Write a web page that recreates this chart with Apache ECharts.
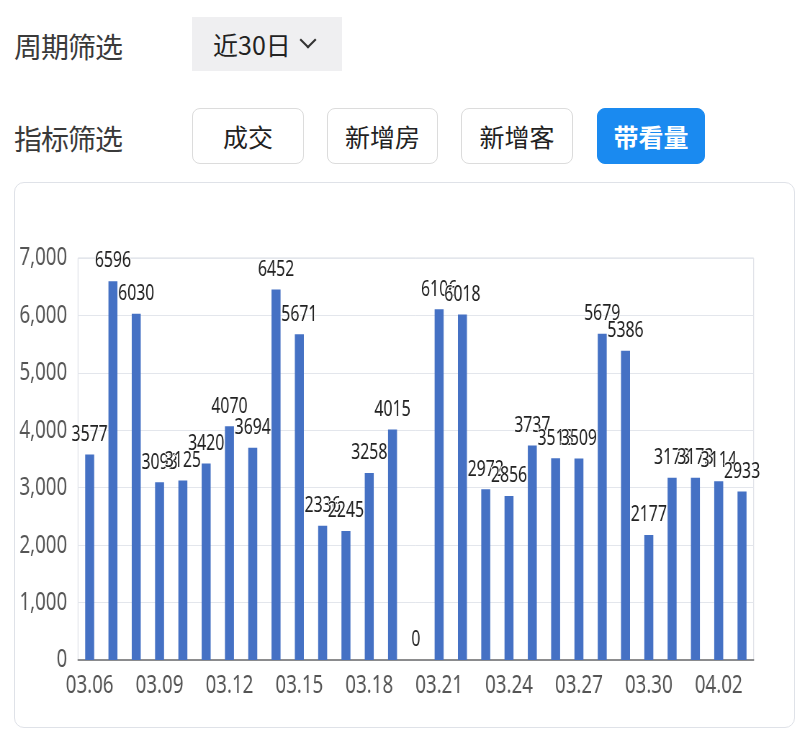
<!DOCTYPE html>
<html lang="zh">
  <head>
    <meta charset="UTF-8" />
    <title>带看量 近30日</title>
    <style>
      * {
        margin: 0;
        padding: 0;
        box-sizing: border-box;
      }
      body {
        width: 800px;
        height: 730px;
        background: #fff;
        font-family: "Noto Sans CJK SC", "Noto Sans", sans-serif;
        position: relative;
        overflow: hidden;
      }
      .label {
        position: absolute;
        left: 14px;
        font-size: 28px;
        color: #3a3a3a;
        line-height: 34px;
        letter-spacing: -1px;
      }
      #period {
        position: absolute;
        left: 192px;
        top: 17px;
        width: 150px;
        height: 54px;
        background: #efeff1;
        font-size: 25px;
        line-height: 54px;
        color: #222;
        padding-left: 21px;
      }
      #period .arrow {
        position: absolute;
        left: 110px;
        top: 17px;
        width: 12px;
        height: 12px;
        border-right: 2px solid #333;
        border-bottom: 2px solid #333;
        transform: rotate(45deg);
      }
      .btn {
        position: absolute;
        top: 108px;
        height: 56px;
        border: 1px solid #dcdcdc;
        border-radius: 8px;
        background: #fff;
        font-size: 25px;
        line-height: 54px;
        text-align: center;
        color: #222;
      }
      .btn.on {
        background: #1a8af0;
        border-color: #1a8af0;
        color: #fff;
        font-weight: bold;
      }
      #card {
        position: absolute;
        left: 14px;
        top: 182px;
        width: 781px;
        height: 546px;
        border: 1px solid #dfe2e8;
        border-radius: 10px;
      }
      /* the screenshot text is narrow, so the chart is drawn wider and squeezed */
      #main {
        position: absolute;
        left: 0;
        top: 0;
        width: 1112px;
        height: 730px;
        transform: scaleX(0.72);
        transform-origin: 0 0;
      }
    </style>
  </head>
  <body>
    <!-- filters -->
    <div class="label" style="top: 29px">周期筛选</div>
    <div id="period">近30日<span class="arrow"></span></div>
    <div class="label" style="top: 121px">指标筛选</div>
    <div class="btn" style="left: 192px; width: 112px">成交</div>
    <div class="btn" style="left: 327px; width: 111px">新增房</div>
    <div class="btn" style="left: 461px; width: 112px">新增客</div>
    <div class="btn on" style="left: 597px; width: 108px">带看量</div>
    <!-- chart card -->
    <div id="card"></div>
    <div id="main"></div>

    <script src="https://cdn.jsdelivr.net/npm/echarts@6/dist/echarts.min.js"></script>
    <script>
      // dates on the x axis
      var dates = [
        "03.06", "03.07", "03.08", "03.09", "03.10", "03.11", "03.12",
        "03.13", "03.14", "03.15", "03.16", "03.17", "03.18", "03.19",
        "03.20", "03.21", "03.22", "03.23", "03.24", "03.25", "03.26",
        "03.27", "03.28", "03.29", "03.30", "03.31", "04.01", "04.02",
        "04.03",
      ];
      // 带看量 per day
      var visits = [
        3577, 6596, 6030, 3093, 3125, 3420, 4070, 3694, 6452, 5671, 2336,
        2245, 3258, 4015, 0, 6106, 6018, 2972, 2856, 3737, 3513, 3509, 5679,
        5386, 2177, 3173, 3173, 3114, 2933,
      ];
      // y axis range
      var yMin = 0;
      var yMax = 7000;
      var yStep = 1000;

      // horizontal squeeze of #main (see css)
      var sx = 0.72;
      var myEcharts = echarts.init(document.getElementById("main"));
      var numFont = "'Noto Sans', sans-serif";

      myEcharts.setOption({
        animation: false,
        grid: {
          left: 78 / sx,
          right: (800 / sx - 753 / sx),
          top: 258,
          bottom: 70,
          show: true,
          borderColor: "#d9dce3",
          borderWidth: 1,
        },
        xAxis: {
          type: "category",
          data: dates,
          axisLine: { lineStyle: { color: "#6e6e6e", width: 1.5 } },
          axisTick: {
            alignWithLabel: true,
            interval: 2,
            length: 5,
            lineStyle: { color: "#6e6e6e" },
          },
          axisLabel: {
            interval: 2,
            margin: 13,
            fontSize: 26,
            fontFamily: numFont,
            color: "#555",
          },
        },
        yAxis: {
          type: "value",
          min: yMin,
          max: yMax,
          interval: yStep,
          axisLine: { show: false },
          axisTick: { show: false },
          splitLine: { lineStyle: { color: "#e3e6ec" } },
          axisLabel: {
            margin: 15,
            fontSize: 26,
            fontFamily: numFont,
            color: "#555",
            formatter: function (v) {
              return v.toLocaleString("en-US");
            },
          },
        },
        series: [
          {
            type: "bar",
            data: visits,
            barWidth: 9 / sx,
            itemStyle: { color: "#4571c4" },
            label: {
              show: true,
              position: "top",
              distance: 9,
              fontSize: 22,
              fontFamily: numFont,
              color: "#222",
              textBorderColor: "#fff",
              textBorderWidth: 2,
            },
          },
        ],
      });
    </script>
  </body>
</html>
